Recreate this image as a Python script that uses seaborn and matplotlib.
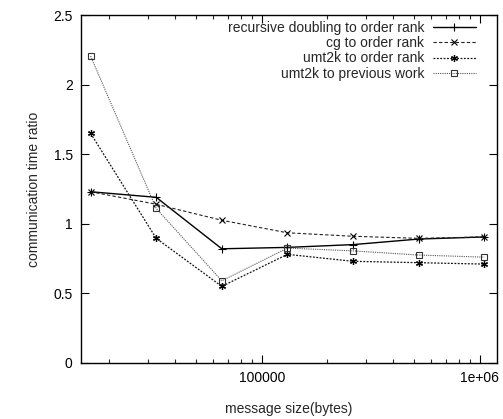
import matplotlib
matplotlib.use("Agg")
import matplotlib.pyplot as plt
import seaborn as sns
import pandas as pd
from matplotlib.ticker import LogLocator, NullFormatter

sizes = [16384, 32768, 65536, 131072, 262144, 524288, 1048576]
recursive = [1.23, 1.19, 0.82, 0.83, 0.85, 0.89, 0.905]
cg = [1.23, 1.14, 1.025, 0.935, 0.91, 0.895, 0.905]
umt_order = [1.65, 0.895, 0.55, 0.78, 0.73, 0.72, 0.71]
umt_prev = [2.205, 1.11, 0.59, 0.825, 0.805, 0.775, 0.76]
labels = ["recursive doubling to order rank", "cg to order rank",
          "umt2k to order rank", "umt2k to previous work"]
ytick_vals = [0, 0.5, 1, 1.5, 2, 2.5]
ytick_labels = ["0", "0.5", "1", "1.5", "2", "2.5"]
xtick_vals = [1e5, 1e6]
xtick_labels = ["100000", "1e+06"]

sns.set_theme(style="ticks")
plt.rcParams['font.family'] = ['Liberation Sans', 'DejaVu Sans']

fig = plt.figure(figsize=(5.03, 4.19), dpi=100)
ax = fig.add_axes([0.161, 0.134, 0.827, 0.830])

styles = [
    dict(color="black", linestyle="-", linewidth=1.0, marker="+", markersize=6,
         markeredgewidth=0.8, markeredgecolor="black"),
    dict(color="#222222", linestyle=(0, (3, 2)), linewidth=0.8, marker="x", markersize=4.5,
         markeredgewidth=0.8, markeredgecolor="black"),
    dict(color="#111111", linestyle=(0, (1.5, 1.2)), linewidth=0.9, marker=(6, 2, 0), markersize=5,
         markeredgewidth=0.9, markeredgecolor="black"),
    dict(color="#555555", linestyle=(0, (1, 1)), linewidth=0.8, marker="s", markersize=4.5,
         markerfacecolor="none", markeredgecolor="#333333", markeredgewidth=0.8),
]
series = [recursive, cg, umt_order, umt_prev]
for lab, vals, st in zip(labels, series, styles):
    df = pd.DataFrame({"size": sizes, "ratio": vals})
    sns.lineplot(data=df, x="size", y="ratio", ax=ax, label=lab, **st)

ax.set_xscale("log")
ax.set_xlim(14800, 1.2e6)
ax.set_ylim(0, 2.5)
ax.set_yticks(ytick_vals)
ax.set_yticklabels(ytick_labels)
ax.set_xticks(xtick_vals)
ax.set_xticklabels(xtick_labels)
ax.xaxis.set_minor_locator(LogLocator(base=10, subs=range(2, 10)))
ax.xaxis.set_minor_formatter(NullFormatter())
ax.tick_params(axis="both", which="major", direction="in", length=6, width=0.8,
               top=True, right=True, labelsize=10, pad=6, colors="black")
ax.tick_params(axis="x", which="minor", direction="in", length=3, width=0.8, top=True)
for sp in ax.spines.values():
    sp.set_linewidth(1.0)
    sp.set_color("black")

ax.set_xlabel("message size(bytes)", fontsize=10, labelpad=12)
ax.set_ylabel("communication time ratio", fontsize=10, labelpad=9)

leg = ax.legend(loc="upper right", frameon=False, markerfirst=False, fontsize=10,
                handlelength=3.1, handletextpad=0.6, labelspacing=0.1,
                borderaxespad=0.3, borderpad=0.1, bbox_to_anchor=(0.962, 1.0))

fig.savefig("out.png", dpi=100)
